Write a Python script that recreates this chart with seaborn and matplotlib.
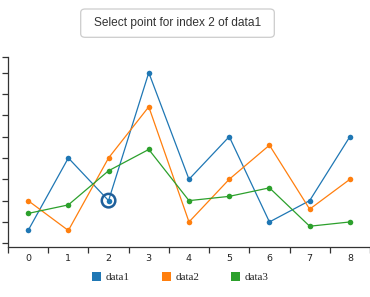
import matplotlib
matplotlib.use("Agg")
import matplotlib.pyplot as plt
from matplotlib.patches import FancyBboxPatch, Patch
import seaborn as sns
import pandas as pd

categories = [0, 1, 2, 3, 4, 5, 6, 7, 8]
data1 = [30, 200, 100, 400, 150, 250, 50, 100, 250]
data2 = [100, 30, 200, 320, 50, 150, 230, 80, 150]
data3 = [70, 90, 170, 220, 100, 110, 130, 40, 50]
series_names = ["data1", "data2", "data3"]
colors = ["#1f77b4", "#ff7f0e", "#2ca02c"]
selected_index = 2
y_ticks = [0, 50, 100, 150, 200, 250, 300, 350, 400]

rows = []
for name, vals in zip(series_names, [data1, data2, data3]):
    for c, v in zip(categories, vals):
        rows.append({"index": c, "value": v, "series": name})
df = pd.DataFrame(rows)

sns.set_style("white")
plt.rcParams["font.family"] = ["DejaVu Sans"]

fig = plt.figure(figsize=(3.70, 2.97), dpi=100)
ax = fig.add_axes([8 / 370, 50.3 / 297, 362 / 370, 189.4 / 297])

sns.lineplot(data=df, x="index", y="value", hue="series", palette=colors,
             marker="o", markersize=4, markeredgewidth=0, linewidth=0.9,
             legend=False, ax=ax, estimator=None)

ax.scatter([categories[selected_index]], [data1[selected_index]], s=95,
           facecolors="none", edgecolors="#1f5f9a", linewidths=1.8, zorder=5)

ax.set_xlim(-0.5, 8.31)
ax.set_ylim(-8, 436)
ax.set_xticks([c - 0.5 for c in categories] + [categories[-1] + 0.5])
ax.set_xticklabels([])
ax.set_xticks(categories, minor=True)
ax.set_xticklabels([str(c) for c in categories], minor=True, fontsize=6.8,
                   color="#222222")
ax.tick_params(axis="x", which="major", bottom=True, length=4, width=0.9,
               color="#333333", direction="out")
ax.tick_params(axis="x", which="minor", bottom=True, length=0, pad=5)
ax.set_yticks(y_ticks + [436])
ax.set_yticklabels([])
ax.tick_params(axis="y", left=True, length=4, width=0.9, color="#333333", direction="out")
ax.set_xlabel("")
ax.set_ylabel("")
for s in ["top", "right"]:
    ax.spines[s].set_visible(False)
for s in ["left", "bottom"]:
    ax.spines[s].set_color("#333333")
    ax.spines[s].set_linewidth(0.9)

handles = [Patch(facecolor=c, edgecolor="none", label=n) for c, n in zip(colors, series_names)]
fig.legend(handles=handles, loc="center", bbox_to_anchor=(0.488, (297 - 277.3) / 297),
           ncol=3, frameon=False, handlelength=0.8, handleheight=0.8,
           handletextpad=0.4, columnspacing=2.9,
           prop={"family": "Liberation Serif", "size": 8})

btn = FancyBboxPatch((80.7 / 370, (297 - 37.3) / 297), (274.3 - 80.7) / 370, 28.3 / 297,
                     boxstyle="round,pad=0,rounding_size=0.012",
                     transform=fig.transFigure, facecolor="white",
                     edgecolor="#cccccc", linewidth=0.9)
fig.patches.append(btn)
fig.text(177.5 / 370, (297 - 23.2) / 297, "Select point for index 2 of data1",
         ha="center", va="center", fontsize=8.6, color="#333333",
         family="Liberation Sans")

fig.savefig("out.png", dpi=100, facecolor="white")
